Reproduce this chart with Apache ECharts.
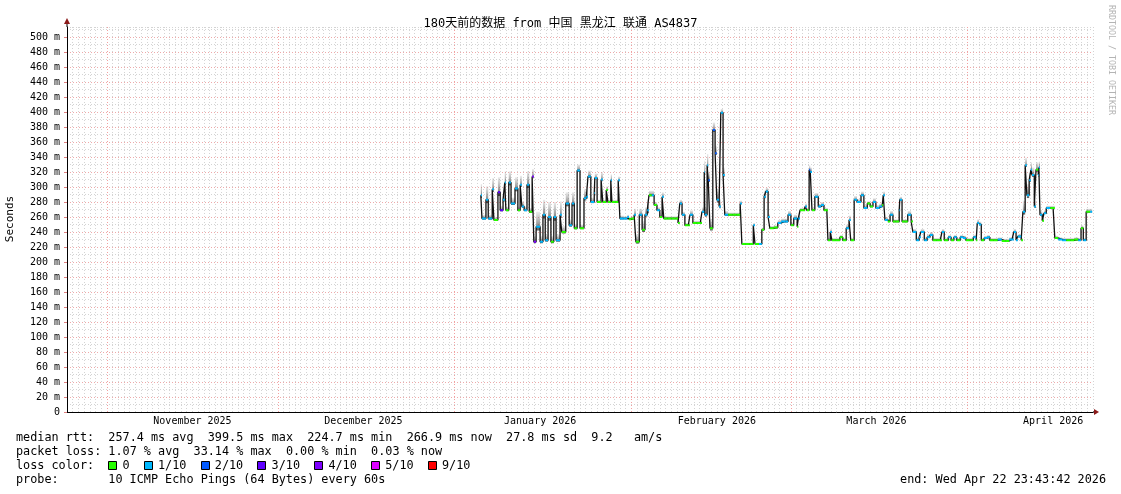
<!DOCTYPE html>
<html><head><meta charset="utf-8">
<script src="https://cdn.jsdelivr.net/npm/echarts@6/dist/echarts.min.js"></script>
<style>html,body{margin:0;padding:0;background:#fff}#c{width:1121px;height:494px}</style>
</head><body><div id="c"></div><script>
// ---------- data ----------
const titleText = '180天前的数据 from 中国 黑龙江 联通 AS4837';
const yAxisName = 'Seconds';
const windowStartUTC = Date.UTC(2025, 9, 24, 23, 43, 42);
const windowDays = 180;
const yMax = 513.33;
const monthLabels = ['November 2025', 'December 2025', 'January 2026', 'February 2026', 'March 2026', 'April 2026'];
const monthStartDates = [[2025, 10, 1], [2025, 11, 1], [2026, 0, 1], [2026, 1, 1], [2026, 2, 1], [2026, 3, 1]];
const monthLabelDates = [[2025, 10, 16], [2025, 11, 16], [2026, 0, 16], [2026, 1, 16], [2026, 2, 16], [2026, 3, 16]];
// sample time, in days since window start
const sampleDay = [72.6,72.8,73.5,73.9,74.6,74.9,75.6,76.0,76.5,76.8,77.0,77.5,77.9,78.6,79.1,79.5,79.8,80.2,80.7,81.1,81.6,81.9,82.3,83.0,83.5,83.9,84.4,84.9,85.4,85.8,86.5,86.8,87.5,88.1,88.6,89.0,89.5,90.0,90.7,91.1,91.4,91.9,92.5,92.6,93.0,93.7,94.0,94.6,94.9,95.4,95.6,96.3,96.7,97.0,97.7,98.3,98.6,99.0,99.5,99.8,100.4,100.9,101.4,101.8,102.1,102.6,103.0,103.5,104.0,104.4,104.7,105.4,106.1,106.7,107.2,107.5,107.9,108.4,109.0,109.3,109.8,110.5,111.1,111.4,111.8,111.9,112.3,112.5,112.8,113.3,113.7,114.0,114.4,114.7,115.1,115.4,116.0,116.7,117.4,118.1,118.4,119.1,119.8,120.4,120.7,121.4,121.9,122.3,122.6,123.0,123.3,124.0,124.7,125.3,126.0,126.5,127.0,127.5,128.1,128.3,128.6,129.3,129.5,129.8,130.2,130.4,130.7,131.2,131.8,132.3,132.8,133.3,133.5,133.9,134.2,134.9,135.6,136.1,136.7,137.2,137.5,138.1,138.6,139.3,139.8,140.4,140.9,141.4,141.9,142.5,143.0,143.2,143.5,144.0,144.4,144.9,145.4,146.0,146.1,146.5,147.0,147.5,148.1,148.4,149.0,149.5,149.8,150.4,150.9,151.4,151.9,152.6,153.2,153.5,153.9,154.6,155.1,155.6,156.1,156.7,157.2,157.7,158.4,159.0,159.5,159.7,160.0,160.4,160.9,161.4,161.9,162.6,163.3,164.0,164.7,165.3,165.8,166.1,166.5,166.8,167.4,167.7,168.1,168.4,168.8,169.1,169.3,169.7,170.0,170.4,170.5,170.7,171.1,171.4,171.8,172.5,173.0,173.3,173.9,174.6,175.3,176.0,176.7,177.4,177.9,178.3,178.8,179.5];
// median rtt in ms
const medianRtt = [289,258,283,258,297,256,293,269,283,306,269,306,278,298,269,303,274,269,303,267,314,227,247,227,263,229,260,227,260,229,263,240,278,249,278,245,322,245,285,287,314,280,292,312,280,310,280,296,280,309,280,280,309,258,258,260,257,258,263,227,263,243,263,269,289,289,276,269,260,287,258,258,258,258,252,278,263,249,249,263,252,252,252,267,320,263,329,309,245,376,345,283,274,399,316,263,263,263,263,278,224,224,224,249,224,224,243,287,294,260,245,246,252,254,254,263,249,258,247,258,269,269,274,269,323,320,269,287,274,276,269,269,229,240,229,229,233,229,245,256,229,283,280,289,272,278,274,280,272,274,276,289,256,254,263,254,254,269,283,254,254,263,254,240,229,233,240,229,233,236,229,229,229,240,229,233,229,233,229,233,232,229,229,233,229,252,250,229,232,233,229,229,230,228,228,230,230,240,229,234,229,267,329,289,309,323,316,274,323,316,326,263,255,265,272,272,272,232,230,229,229,229,230,229,245,229,267,267];
// spread of the ping "smoke" above the median, ms
const smokeSpread = [15,5,18,5,15,4,20,6,10,15, 5,15,8,15,5,12,6,5,18,5, 10,8,20,8,20,8,20,8,20,8, 18,8,15,8,15,6,8,5,12,10, 8,6,15,6,3,10,3,5,3,8, 3,3,5,4,3,3,3,3,8,10, 8,12,10,15,6,6,4,4,4,6, 3,3,3,3,3,5,4,3,3,6, 3,3,3,6,15,10,15,10,12,10, 10,15,10,5,10,5,3,3,3,4, 2,2,2,3,2,2,3,8,5,4, 3,3,4,4,4,5,4,5,3,4, 3,3,4,3,6,6,3,5,4,4, 3,3,3,4,3,3,3,3,5,6, 3,5,4,5,4,3,3,5,4,4, 3,5,4,3,5,3,3,6,4,3, 3,5,3,4,4,4,4,4,4,4, 3,3,3,4,3,3,3,3,3,3, 3,3,3,3,3,5,4,3,3,3, 3,3,3,3,3,3,3,4,3,3, 3,15,10,15,10,10,10,8,10,10, 8,5,4,4,3,3,3,3,3,3, 3,3,3,3,4,3,4,4];
// loss level (tenths of pings lost)
const lossLevel = [1,1,1,1,1,0,3,3,1,1,0,1,1,1,0,1,1,1,1,0,4,4,1,1,1,1,1,0,1,1,1,0,1,1,1,0,1,0,1,1,1,1,1,1,0,1,0,0,0,1,0,0,1,1,1,1,0,0,1,0,1,0,1,1,0,1,0,1,0,1,0,0,0,0,0,1,1,0,0,1,0,0,0,1,1,1,1,2,0,2,2,1,1,1,1,1,0,0,0,1,0,0,0,1,0,1,0,1,1,1,0,0,1,1,1,1,0,1,0,1,0,0,1,0,2,1,0,1,1,1,0,0,0,1,0,0,0,0,1,1,0,1,1,1,1,0,0,1,1,1,0,1,1,0,1,0,0,1,1,0,0,1,0,1,1,1,1,1,1,1,0,0,0,1,0,1,0,1,0,1,1,0,0,1,0,1,1,0,1,1,0,0,1,0,0,1,1,1,1,1,0,1,1,1,1,1,1,1,0,1,1,1,0,1,1,0,0,0,1,1,0,0,0,1,0,1,0,1,1];
const lossColors = {0:'#26ff00',1:'#00b8ff',2:'#0059ff',3:'#5e00ff',4:'#7e00ff',5:'#dd00ff',9:'#ff0000'};
const lossLegend = [['0','#26ff00'],['1/10','#00b8ff'],['2/10','#0059ff'],['3/10','#5e00ff'],['4/10','#7e00ff'],['5/10','#dd00ff'],['9/10','#ff0000']];
const statsLine1 = 'median rtt:  257.4 ms avg  399.5 ms max  224.7 ms min  266.9 ms now  27.8 ms sd  9.2   am/s';
const statsLine2 = 'packet loss: 1.07 % avg  33.14 % max  0.00 % min  0.03 % now';
const statsLine3 = 'loss color:';
const probeLabel = 'probe:';
const probeText = '10 ICMP Echo Pings (64 Bytes) every 60s';
const endText = 'end: Wed Apr 22 23:43:42 2026';
const creditText = 'RRDTOOL / TOBI OETIKER';

// ---------- build ----------
const dayOf = d => (Date.UTC(d[0], d[1], d[2]) - windowStartUTC) / 86400000;
const monthStartDays = monthStartDates.map(dayOf);
const monthLabelDays = monthLabelDates.map(dayOf);
const lineData = sampleDay.map((d, i) => [d, medianRtt[i]]);
const nextDay = i => (i < sampleDay.length - 1 ? sampleDay[i + 1] : sampleDay[i] + 0.35);
const segData = sampleDay.map((d, i) => [d, medianRtt[i], nextDay(i), lossLevel[i]]);
const smokeData = sampleDay.map((d, i) => [d, medianRtt[i], nextDay(i), smokeSpread[i]]);

const mono = "'DejaVu Sans Mono', monospace";
const G = {left: 67, top: 27, width: 1026, height: 385};
const legendFont = 11.8, cw = 7.1;

const graphics = [];
graphics.push({type:'line', shape:{x1:67, y1:G.top, x2:67, y2:22}, style:{stroke:'#000', lineWidth:1}, z:10});
graphics.push({type:'polygon', shape:{points:[[64,24],[70,24],[67,18]]}, style:{fill:'#8b1a1a'}, z:10});
graphics.push({type:'line', shape:{x1:G.left+G.width, y1:412, x2:1095, y2:412}, style:{stroke:'#000', lineWidth:1}, z:10});
graphics.push({type:'polygon', shape:{points:[[1094,409],[1094,415],[1099,412]]}, style:{fill:'#8b1a1a'}, z:10});
graphics.push({type:'text', x:10, y:219, rotation:Math.PI/2, style:{text:yAxisName, font:'11px ' + mono, fill:'#000', align:'center', verticalAlign:'middle'}});
graphics.push({type:'text', x:1111, y:5, rotation:-Math.PI/2, style:{text:creditText, font:'8.3px ' + mono, fill:'#b4b4b4', align:'left', verticalAlign:'middle'}});
const rowY = [438, 452, 466, 480];
const txt = (x, y, t, align) => ({type:'text', x, y, style:{text:t, font:legendFont + 'px ' + mono, fill:'#000', align:align || 'left', verticalAlign:'middle'}});
graphics.push(txt(16, rowY[0], statsLine1));
graphics.push(txt(16, rowY[1], statsLine2));
graphics.push(txt(16, rowY[2], statsLine3));
let lx = 16 + 13 * cw;
lossLegend.forEach(([lab, col]) => {
  graphics.push({type:'rect', shape:{x:Math.round(lx) + 0.5, y:rowY[2] - 4.5, width:8, height:8}, style:{fill:col, stroke:'#000', lineWidth:1}});
  graphics.push(txt(lx + 2 * cw, rowY[2], lab));
  lx += (lab.length + 4) * cw;
});
graphics.push(txt(16, rowY[3], probeLabel));
graphics.push(txt(16 + 13 * cw, rowY[3], probeText));
graphics.push(txt(1106, rowY[3], endText, 'right'));

const option = {
  animation: false,
  backgroundColor: '#fff',
  title: {text: titleText, left: 'center', top: 13, textStyle: {fontFamily: "'DejaVu Sans Mono', 'Noto Sans CJK SC', monospace", fontSize: 12, fontWeight: 'normal', color: '#000'}},
  grid: {left: G.left, top: G.top, width: G.width, height: G.height, containLabel: false},
  xAxis: [
    {type:'value', min:0, max:windowDays, interval:1, axisLine:{show:true, lineStyle:{color:'#000', width:1}}, axisTick:{show:false}, axisLabel:{show:false},
     splitLine:{show:true, lineStyle:{color:'#d4d4d4', type:[1,2], width:1}}},
    {type:'value', min:0, max:windowDays, position:'bottom', axisLine:{show:false}, axisTick:{show:false}, splitLine:{show:false},
     axisLabel:{show:true, customValues: monthLabelDays, margin:4, fontFamily:mono, fontSize:10, color:'#000', formatter: v => { const i = monthLabelDays.findIndex(m => Math.abs(m - v) < 1e-6); return i >= 0 ? monthLabels[i] : ''; }}}
  ],
  yAxis: [
    {type:'value', min:0, max:yMax, interval:10, axisLine:{show:false}, axisTick:{show:false}, axisLabel:{show:false},
     splitLine:{show:true, lineStyle:{color:'#d4d4d4', type:[1,2], width:1}}},
    {type:'value', min:0, max:yMax, interval:20, position:'left', axisLine:{show:true, lineStyle:{color:'#000', width:1}},
     axisTick:{show:true, length:3, lineStyle:{color:'#e08080'}},
     axisLabel:{margin:7, fontFamily:mono, fontSize:10, color:'#000', formatter: v => (Math.abs(v % 20) > 1e-6 ? '' : (v === 0 ? '0' : v + ' m')), showMaxLabel:false},
     splitLine:{show:true, showMaxLine:false, lineStyle:{color:'#eeaaaa', type:[1,2], width:1}}}
  ],
  series: [
    {type:'custom', xAxisIndex:0, yAxisIndex:1, data:smokeData, z:2,
     renderItem: (params, api) => {
       const v = api.value(1), s = api.value(3);
       const pTop = api.coord([api.value(0), v + s]);
       const pBot = api.coord([api.value(2), v - s * 0.25]);
       return {type:'rect', shape:{x:pTop[0], y:pTop[1], width:Math.max(1, pBot[0] - pTop[0]), height:pBot[1] - pTop[1]},
         style:{fill:new echarts.graphic.LinearGradient(0, 0, 0, 1, [{offset:0, color:'rgba(120,120,120,0.15)'}, {offset:1, color:'rgba(40,40,40,0.75)'}])}};
     }},
    {type:'line', xAxisIndex:0, yAxisIndex:1, data:lineData, step:'end', symbol:'none', lineStyle:{color:'#111', width:1.3}, z:3,
     markLine:{silent:true, symbol:'none', label:{show:false}, lineStyle:{color:'#f2a0a0', type:[1,2], width:1}, data: monthStartDays.map(d => ({xAxis:d})), z:1}},
    {type:'custom', xAxisIndex:0, yAxisIndex:1, data:segData, z:4,
     renderItem: (params, api) => {
       const p0 = api.coord([api.value(0), api.value(1)]);
       const p1 = api.coord([api.value(2), api.value(1)]);
       return {type:'line', shape:{x1:p0[0], y1:p0[1], x2:p1[0], y2:p1[1]}, style:{stroke: lossColors[api.value(3)], lineWidth:2}};
     }}
  ],
  graphic: graphics
};
const chart = echarts.init(document.getElementById('c'), null, {renderer:'canvas'});
chart.setOption(option);
</script></body></html>
